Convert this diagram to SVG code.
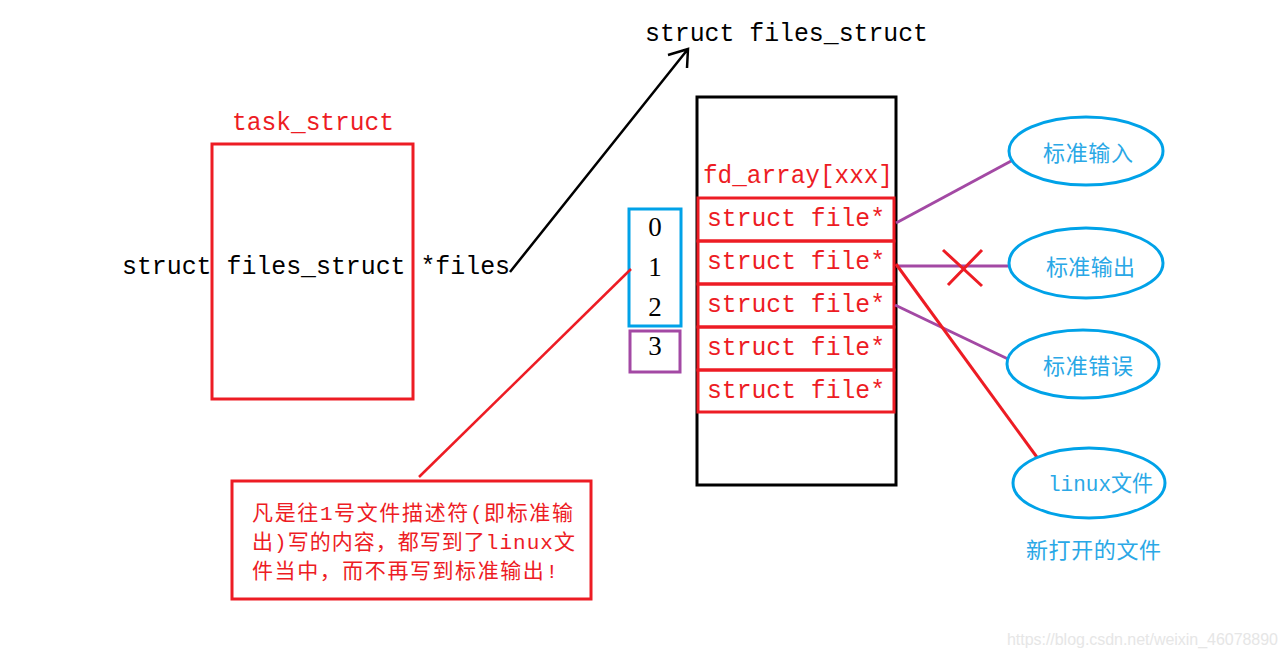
<svg xmlns="http://www.w3.org/2000/svg" width="1288" height="658" viewBox="0 0 1288 658">
<style>
.mono{font-family:"Liberation Mono","DejaVu Sans Mono",monospace;font-size:25px}
.num{font-family:"Liberation Serif",serif;font-size:27px;fill:#000;text-anchor:middle}
.cjk{font-family:"Noto Sans CJK SC",sans-serif;font-size:22px;fill:#2aa8e6}
.cjkm{font-family:"Liberation Mono","Noto Sans CJK SC",monospace;font-size:22px;fill:#2aa8e6}
.note{font-family:"Liberation Mono","Noto Sans CJK SC",monospace;font-size:21px;fill:#ed1c24}
.red{fill:#ed1c24}
.blk{fill:#000}
.rbox{fill:none;stroke:#ed1c24;stroke-width:3}
.ell{fill:#fff;stroke:#00a2e8;stroke-width:3}
</style>
<rect width="1288" height="658" fill="#fff"/>
<g id="title"><text class="mono blk" x="645" y="41" textLength="283" lengthAdjust="spacingAndGlyphs">struct files_struct</text></g>
<g id="task_struct">
<text class="mono red" x="232" y="130" textLength="162" lengthAdjust="spacingAndGlyphs">task_struct</text>
<rect class="rbox" x="212" y="144" width="201" height="255"/>
<text class="mono blk" x="122" y="274" textLength="388" lengthAdjust="spacingAndGlyphs">struct files_struct *files</text>
</g>
<g id="files_struct">
<rect x="697" y="97" width="199" height="388" fill="none" stroke="#000" stroke-width="3"/>
<text class="mono red" x="703" y="183" textLength="190" lengthAdjust="spacingAndGlyphs">fd_array[xxx]</text>
<rect class="rbox" x="698" y="198" width="196" height="43"/>
<rect class="rbox" x="698" y="241" width="196" height="43"/>
<rect class="rbox" x="698" y="284" width="196" height="43"/>
<rect class="rbox" x="698" y="327" width="196" height="43"/>
<rect class="rbox" x="698" y="370" width="196" height="42"/>
<text class="mono red" x="707" y="226" textLength="178" lengthAdjust="spacingAndGlyphs">struct file*</text>
<text class="mono red" x="707" y="269" textLength="178" lengthAdjust="spacingAndGlyphs">struct file*</text>
<text class="mono red" x="707" y="312" textLength="178" lengthAdjust="spacingAndGlyphs">struct file*</text>
<text class="mono red" x="707" y="355" textLength="178" lengthAdjust="spacingAndGlyphs">struct file*</text>
<text class="mono red" x="707" y="398" textLength="178" lengthAdjust="spacingAndGlyphs">struct file*</text>
</g>
<g id="fd_index">
<rect x="629" y="209" width="52" height="117" fill="none" stroke="#00a2e8" stroke-width="3"/>
<text class="num" x="655" y="236">0</text>
<text class="num" x="655" y="276">1</text>
<text class="num" x="655" y="316">2</text>
<rect x="630" y="331" width="50" height="41" fill="none" stroke="#a349a4" stroke-width="3"/>
<text class="num" x="655" y="355">3</text>
</g>
<g id="connectors" fill="none" stroke-width="3">
<path d="M510 272 L688 49 M668 55 L688 49 L687 68" stroke="#000" stroke-width="2.5"/>
<path d="M896 223 L1013 160" stroke="#a349a4"/>
<path d="M896 266 L1010 266" stroke="#a349a4"/>
<path d="M895 305 L1008 359" stroke="#a349a4"/>
<path d="M943 250 L982 286 M982 250 L948 285" stroke="#ed1c24"/>
<path d="M896 264 L1039 460" stroke="#ed1c24"/>
<path d="M631 269 L419 477" stroke="#ed1c24" stroke-width="2.5"/>
</g>
<g id="stdin"><ellipse class="ell" cx="1086" cy="151" rx="77" ry="34"/><text class="cjk" x="1043" y="161" textLength="90">标准输入</text></g>
<g id="stdout"><ellipse class="ell" cx="1086" cy="263" rx="77" ry="35"/><text class="cjk" x="1046" y="275" textLength="89">标准输出</text></g>
<g id="stderr"><ellipse class="ell" cx="1083" cy="364" rx="76" ry="34"/><text class="cjk" x="1043" y="374" textLength="90">标准错误</text></g>
<g id="linuxfile"><ellipse class="ell" cx="1089" cy="483" rx="76" ry="35"/><text class="cjkm" x="1048" y="491" textLength="105" lengthAdjust="spacingAndGlyphs">linux文件</text></g>
<g id="newfile-label"><text class="cjk" x="1026" y="558" textLength="135">新打开的文件</text></g>
<g id="note">
<rect class="rbox" x="232" y="481" width="359" height="118"/>
<text class="note" x="252" y="520" textLength="321">凡是往1号文件描述符(即标准输</text>
<text class="note" x="252" y="549" textLength="323">出)写的内容，都写到了linux文</text>
<text class="note" x="252" y="578" textLength="306">件当中，而不再写到标准输出!</text>
</g>
<g id="watermark"><text x="1007" y="645" font-family="Liberation Sans,sans-serif" font-size="16" fill="#e6e6e6" textLength="271">https://blog.csdn.net/weixin_46078890</text></g>
</svg>
